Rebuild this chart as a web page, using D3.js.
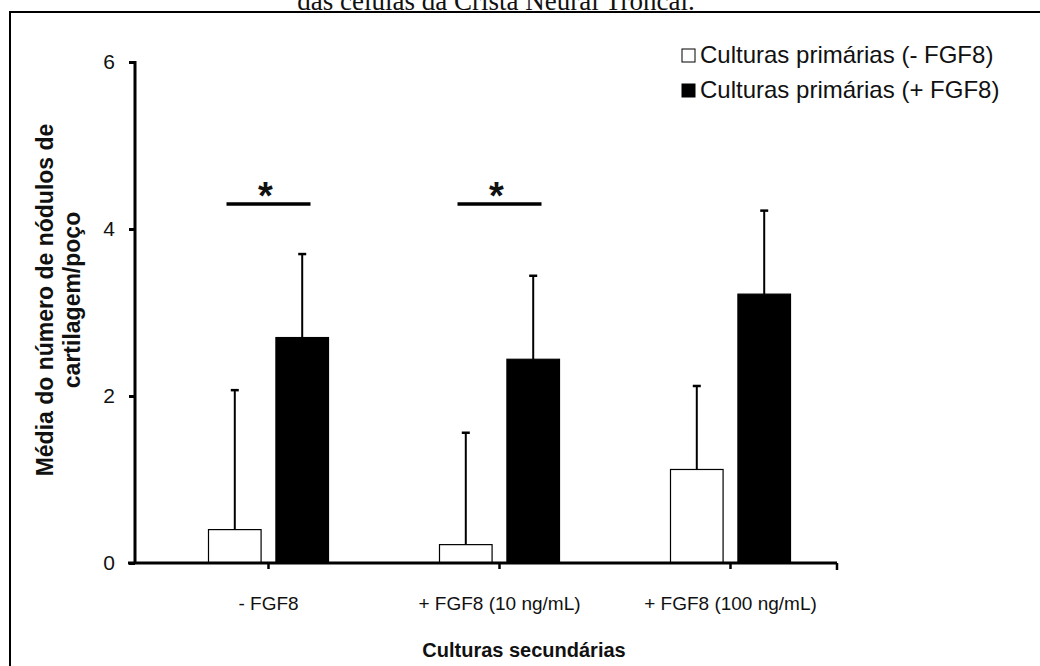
<!DOCTYPE html>
<html>
<head>
  <meta charset="UTF-8">
  <title>nodulos de cartilagem</title>
  <script src="https://cdn.jsdelivr.net/npm/d3@7"></script>
  <style>
    body { margin:0; background:#fff; }
    svg text { font-family: "Liberation Sans", Arial, sans-serif; fill:#111; }
    .title { font-family: "Liberation Serif", "Times New Roman", serif; }
  </style>
</head>
<body>
<svg id="chart" width="1040" height="666"></svg>
<script>
// secondary culture conditions (x categories)
var categories = ["- FGF8", "+ FGF8 (10 ng/mL)", "+ FGF8 (100 ng/mL)"];
// primary cultures: series
var seriesNames = ["Culturas primárias (- FGF8)", "Culturas primárias (+ FGF8)"];
var semFGF8 = [0.40, 0.22, 1.12];      // white bars
var comFGF8 = [2.70, 2.44, 3.22];      // black bars
var errSem  = [1.67, 1.34, 1.00];
var errCom  = [1.00, 1.00, 1.00];
var yTicks  = [0, 2, 4, 6];
var signif  = ["- FGF8", "+ FGF8 (10 ng/mL)"];   // groups marked with *

var svg = d3.select("#chart");

// caption line cut at the top + frame
svg.append("text").attr("class", "title")
  .attr("x", 496).attr("y", 10).attr("text-anchor", "middle")
  .style("font-size", "27px").text("das células da Crista Neural Troncal.");
svg.append("rect").attr("x", 10).attr("y", 12).attr("width", 1040).attr("height", 700)
  .attr("fill", "none").attr("stroke", "#000").attr("stroke-width", 2);

var m = {l:135, r:837, t:62, b:563};
var y = d3.scaleLinear().domain([0, 6]).range([m.b, m.t]);
var x = d3.scaleBand().domain(categories).range([153, 846]);
var xs = d3.scaleBand().domain([0, 1]).range([-60, 60]).paddingInner(0.22);

var flat = d3.merge(categories.map(function(c, i){
  return [{cat:c, s:0, v:semFGF8[i], e:errSem[i]},
          {cat:c, s:1, v:comFGF8[i], e:errCom[i]}];
}));
var cx = function(c){ return x(c) + x.bandwidth()/2; };
var bx = function(d){ return cx(d.cat) + xs(d.s) + xs.bandwidth()/2; };

// error bars (upper only), under the bars
var eb = svg.append("g").selectAll("g").data(flat).enter().append("g");
eb.append("line")
  .attr("x1", bx).attr("x2", bx)
  .attr("y1", function(d){ return y(d.v); })
  .attr("y2", function(d){ return y(d.v + d.e); })
  .attr("stroke", "#000").attr("stroke-width", 2);
eb.append("line")
  .attr("x1", function(d){ return bx(d) - 4; })
  .attr("x2", function(d){ return bx(d) + 4; })
  .attr("y1", function(d){ return y(d.v + d.e); })
  .attr("y2", function(d){ return y(d.v + d.e); })
  .attr("stroke", "#000").attr("stroke-width", 2.5);

svg.append("g").selectAll("rect").data(flat).enter().append("rect")
  .attr("x", function(d){ return cx(d.cat) + xs(d.s); })
  .attr("width", xs.bandwidth())
  .attr("y", function(d){ return y(d.v); })
  .attr("height", function(d){ return y(0) - y(d.v); })
  .attr("fill", function(d){ return d.s ? "#000" : "#fff"; })
  .attr("stroke", "#000").attr("stroke-width", 1.2);

// y axis
var ya = svg.append("g").attr("transform", "translate(" + m.l + ",0)")
  .call(d3.axisLeft(y).tickValues(yTicks).tickSize(6).tickPadding(14).tickFormat(d3.format("d")));
ya.select(".domain").attr("stroke-width", 3).attr("d", "M0," + (m.t - 1) + "V" + m.b);
ya.selectAll(".tick line").attr("stroke-width", 3);
ya.selectAll("text").style("font-size", "21px").attr("fill", "#222");

// x axis
var xa = svg.append("g").attr("transform", "translate(0," + m.b + ")")
  .call(d3.axisBottom(x).tickSize(6).tickPadding(28));
xa.select(".domain").attr("stroke-width", 3).attr("d", "M" + (m.l - 7) + ",0H" + m.r);
xa.selectAll(".tick").attr("transform", function(d){ return "translate(" + cx(d) + ",0)"; });
xa.selectAll(".tick line").attr("stroke-width", 2.5);
xa.append("line").attr("x1", m.r).attr("x2", m.r).attr("y1", 0).attr("y2", 7)
  .attr("stroke", "#000").attr("stroke-width", 2.5);
xa.selectAll("text").style("font-size", "19px").attr("fill", "#222");

// significance marks
var sg = svg.append("g").selectAll("g").data(signif).enter().append("g");
sg.append("line")
  .attr("x1", function(d){ return cx(d) - 42; })
  .attr("x2", function(d){ return cx(d) + 42; })
  .attr("y1", y(4.3)).attr("y2", y(4.3))
  .attr("stroke", "#000").attr("stroke-width", 3.5);
sg.append("text")
  .attr("x", function(d){ return cx(d) - 3; })
  .attr("y", y(4.3) + 5).attr("text-anchor", "middle")
  .style("font-size", "38px").style("font-weight", "bold").text("*");

// axis titles
svg.append("text").attr("transform", "translate(53,300) rotate(-90)")
  .attr("text-anchor", "middle").style("font-size", "23px").style("font-weight", "bold")
  .text("Média do número de nódulos de");
svg.append("text").attr("transform", "translate(80,300) rotate(-90)")
  .attr("text-anchor", "middle").style("font-size", "23px").style("font-weight", "bold")
  .text("cartilagem/poço");
svg.append("text").attr("x", 524).attr("y", 657).attr("text-anchor", "middle")
  .style("font-size", "20px").style("font-weight", "bold").text("Culturas secundárias");

// legend
var lg = svg.append("g").selectAll("g").data(seriesNames).enter().append("g")
  .attr("transform", function(d, i){ return "translate(682," + (55 + i * 35) + ")"; });
lg.append("rect").attr("x", 0).attr("y", -6).attr("width", 13).attr("height", 13)
  .attr("fill", function(d, i){ return i ? "#000" : "#fff"; })
  .attr("stroke", "#000").attr("stroke-width", 1);
lg.append("text").attr("x", 18).attr("y", 8).style("font-size", "24px").attr("fill", "#222")
  .text(function(d){ return d; });
</script>
</body>
</html>
